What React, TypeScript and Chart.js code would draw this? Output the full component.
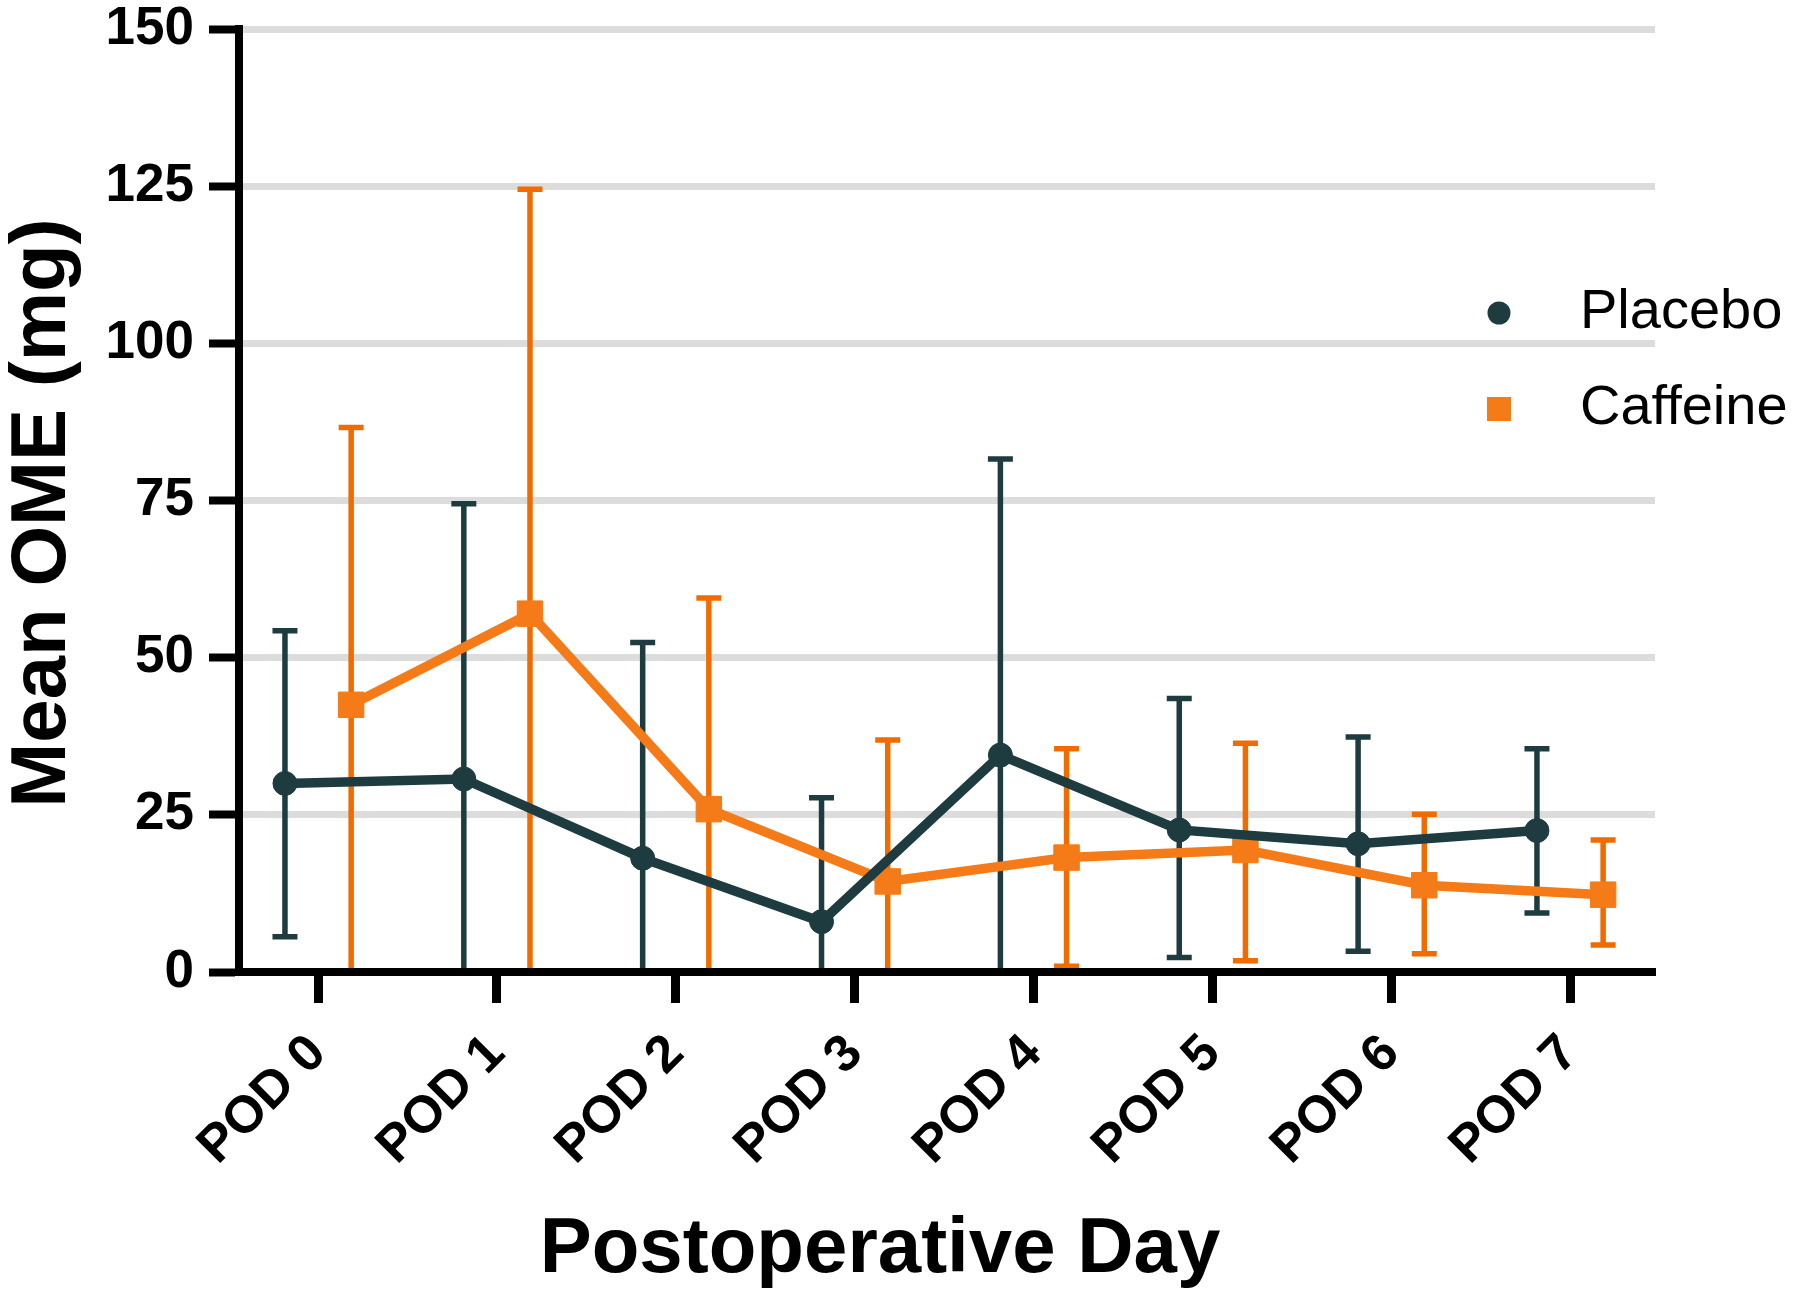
import React, { useEffect, useRef } from 'react';
import { Chart, registerables } from 'chart.js';

Chart.register(...registerables);

// ---- Data ----
const days = ['POD 0', 'POD 1', 'POD 2', 'POD 3', 'POD 4', 'POD 5', 'POD 6', 'POD 7'];
const yTicks = [0, 25, 50, 75, 100, 125, 150];

const placeboMean = [30.0, 30.7, 18.1, 8.0, 34.5, 22.6, 20.4, 22.5];
const placeboUpper = [54.3, 74.5, 52.4, 27.7, 81.6, 43.5, 37.4, 35.5];
const placeboLower = [5.6, 0, 0, 0, 0, 2.3, 3.3, 9.4];

const caffeineMean = [42.5, 57.0, 25.9, 14.4, 18.2, 19.4, 13.8, 12.3];
const caffeineUpper = [86.6, 124.5, 59.5, 36.9, 35.5, 36.4, 25.1, 21.0];
const caffeineLower = [0, 0, 0, 0, 0.9, 1.8, 2.9, 4.3];

const seriesNames = ['Placebo', 'Caffeine'];
const xTitle = 'Postoperative Day';
const yTitle = 'Mean OME (mg)';

export default function App() {
  const ref = useRef<HTMLCanvasElement>(null);

  useEffect(() => {
    const canvas = ref.current;
    if (!canvas) return;
    const FONT = "'Liberation Sans', Arial, Helvetica, sans-serif";
    const OFFSET = 0.185;
    const DARK = '#1e3c3f';
    const ORANGE = '#f47b17';
    const ORANGE_ERR = '#f06c00';

    const errorBars = {
      id: 'errorBars',
      beforeDatasetsDraw(chart: any) {
        const { ctx, chartArea, scales } = chart;
        const xs = scales.x;
        const ys = scales.y;
        ctx.save();
        ctx.beginPath();
        ctx.rect(chartArea.left, 0, chartArea.right - chartArea.left, chartArea.bottom - 4);
        ctx.clip();
        chart.data.datasets.forEach((ds: any) => {
          ctx.strokeStyle = ds.errColor;
          ctx.lineWidth = 5.5;
          ctx.lineCap = 'butt';
          ds.data.forEach((pt: any, i: number) => {
            const x = xs.getPixelForValue(pt.x);
            const yT = ys.getPixelForValue(ds.errUpper[i]);
            const yB = ys.getPixelForValue(ds.errLower[i]);
            ctx.beginPath();
            ctx.moveTo(x, yT);
            ctx.lineTo(x, yB);
            ctx.moveTo(x - 12.5, yT);
            ctx.lineTo(x + 12.5, yT);
            ctx.moveTo(x - 12.5, yB);
            ctx.lineTo(x + 12.5, yB);
            ctx.stroke();
          });
        });
        ctx.restore();
      },
    };

    const axisTitles = {
      id: 'axisTitles',
      afterDraw(chart: any) {
        const { ctx } = chart;
        ctx.save();
        ctx.fillStyle = '#000';
        ctx.font = `bold 78px ${FONT}`;
        ctx.textAlign = 'center';
        ctx.textBaseline = 'alphabetic';
        ctx.fillText(xTitle, 880, 1272);
        ctx.translate(65, 513);
        ctx.rotate(-Math.PI / 2);
        ctx.fillText(yTitle, 0, 0);
        ctx.restore();
      },
    };

    const sideLegend = {
      id: 'sideLegend',
      afterDraw(chart: any) {
        const { ctx } = chart;
        const rows = [313, 409];
        ctx.save();
        chart.data.datasets.forEach((ds: any, i: number) => {
          const cy = rows[i];
          ctx.fillStyle = ds.pointBackgroundColor;
          if (ds.pointStyle === 'circle') {
            ctx.beginPath();
            ctx.arc(1499, cy, 11.5, 0, Math.PI * 2);
            ctx.fill();
          } else {
            ctx.fillRect(1499 - 12, cy - 12, 24, 24);
          }
          ctx.fillStyle = '#000';
          ctx.font = `56px ${FONT}`;
          ctx.textAlign = 'left';
          ctx.textBaseline = 'middle';
          ctx.fillText(ds.label, 1580, cy);
        });
        ctx.restore();
      },
    };

    const chart = new Chart(canvas, {
      type: 'line',
      data: {
        datasets: [
          {
            label: seriesNames[0],
            data: placeboMean.map((y, i) => ({ x: i - OFFSET, y })),
            borderColor: DARK,
            backgroundColor: DARK,
            pointBackgroundColor: DARK,
            pointBorderColor: DARK,
            pointStyle: 'circle',
            pointRadius: 12,
            pointBorderWidth: 1,
            borderWidth: 9.5,
            tension: 0,
            errUpper: placeboUpper,
            errLower: placeboLower,
            errColor: DARK,
          } as any,
          {
            label: seriesNames[1],
            data: caffeineMean.map((y, i) => ({ x: i + OFFSET, y })),
            borderColor: ORANGE,
            backgroundColor: ORANGE,
            pointBackgroundColor: ORANGE,
            pointBorderColor: ORANGE,
            pointStyle: 'rect',
            pointRadius: 18,
            pointBorderWidth: 1,
            borderWidth: 9.5,
            tension: 0,
            errUpper: caffeineUpper,
            errLower: caffeineLower,
            errColor: ORANGE_ERR,
          } as any,
        ],
      },
      options: {
        responsive: false,
        animation: false,
        devicePixelRatio: 1,
        layout: { padding: { left: 0, top: 29, right: 145, bottom: 0 } },
        plugins: {
          legend: { display: false },
          tooltip: { enabled: false },
          title: { display: false },
        },
        scales: {
          x: {
            type: 'linear',
            min: -0.442,
            max: 7.475,
            afterBuildTicks: (s: any) => {
              s.ticks = days.map((_, i) => ({ value: i }));
            },
            afterFit: (s: any) => {
              s.height = 1304 - 972;
              s.paddingLeft = 0;
              s.paddingRight = 0;
            },
            ticks: {
              autoSkip: false,
              minRotation: 45,
              maxRotation: 45,
              padding: 20,
              color: '#000',
              font: { family: FONT, size: 52, weight: 'bold' },
              callback: (v: any) => days[Math.round(Number(v))] ?? '',
            },
            grid: {
              drawOnChartArea: false,
              drawTicks: true,
              tickLength: 31,
              tickWidth: 9,
              tickColor: '#000',
            },
            border: { display: true, color: '#000', width: 8 },
          },
          y: {
            type: 'linear',
            min: 0,
            max: 150,
            afterBuildTicks: (s: any) => {
              s.ticks = yTicks.map((v) => ({ value: v }));
            },
            afterFit: (s: any) => {
              s.width = 239;
              s.paddingTop = 0;
              s.paddingBottom = 0;
            },
            ticks: {
              padding: 15,
              color: '#000',
              font: { family: FONT, size: 53, weight: 'bold' },
            },
            grid: {
              color: (c: any) => (c.tick && c.tick.value === 0 ? 'rgba(0,0,0,0)' : '#dcdcdc'),
              lineWidth: 7,
              tickLength: 30,
              tickWidth: 8,
              tickColor: '#000',
            },
            border: { display: true, color: '#000', width: 8 },
          },
        },
      } as any,
      plugins: [errorBars, axisTitles, sideLegend],
    });

    return () => chart.destroy();
  }, []);

  return (
    <div style={{ position: 'fixed', left: 0, top: 0, width: 1800, height: 1304, background: '#fff' }}>
      <canvas ref={ref} width={1800} height={1304} style={{ width: 1800, height: 1304, display: 'block' }} />
    </div>
  );
}
